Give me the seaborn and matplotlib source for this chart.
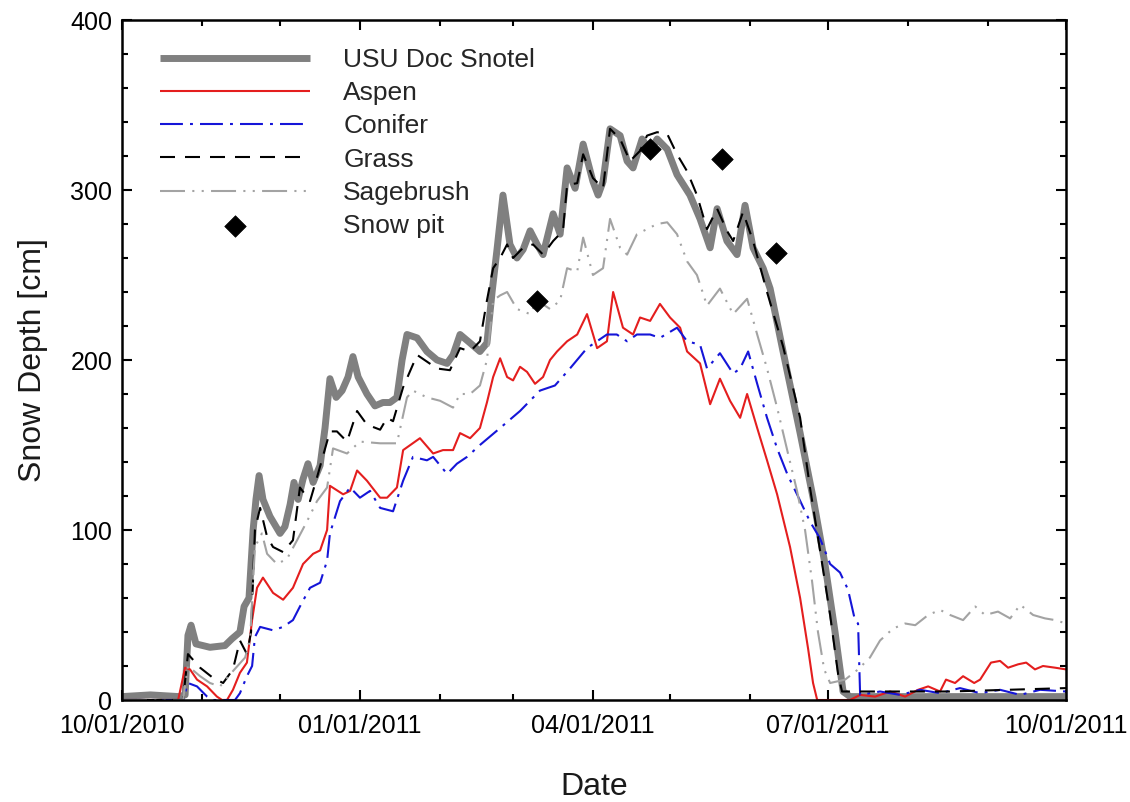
import numpy as np
import pandas as pd
import matplotlib
matplotlib.use("Agg")
import matplotlib.pyplot as plt
import matplotlib.dates as mdates
from matplotlib.ticker import MultipleLocator
import seaborn as sns

START = "2010-10-01"
END = "2011-10-01"

# ---- data: day offsets since 10/01/2010 and snow depth [cm] ----
usu_day = [0, 11, 22, 24.4, 25.5, 26.7, 28.6, 34.0, 39.8, 42.5, 45.6, 47.2, 49.1, 50.7, 51.8,
           53.0, 54.5, 57.2, 61.1, 63.0, 65.0, 66.5, 68.1, 70.0, 71.9, 73.9, 76.6, 78.5, 80.4,
           82.8, 85.1, 87.4, 89.3, 91.3, 94.7, 97.8, 100.9, 103.6, 106.3, 108.3, 110.2, 114.1,
           117.9, 121.8, 125.7, 128.0, 130.7, 134.6, 138.4, 141.1, 143.1, 145.0, 147.3, 150.0,
           152.7, 155.1, 157.8, 160.5, 162.8, 166.7, 169.4, 172.1, 175.2, 178.3, 182.1, 184.1,
           186.0, 188.7, 192.6, 195.3, 197.6, 201.1, 204.2, 206.9, 210.8, 214.6, 219.6, 223.5,
           227.4, 230.1, 233.9, 237.8, 240.9, 244.0, 247.9, 250.6, 255.6, 262.2, 267.2, 271.8,
           275.7, 278.8, 281.5, 365]
usu_cm = [2, 3, 2, 3, 38, 44, 33, 31, 32, 36, 40, 55, 60, 100, 118,
          132, 118, 108, 98, 102, 115, 128, 118, 130, 139, 128, 138, 160, 189,
          178, 182, 190, 202, 190, 180, 173, 175, 175, 178, 200, 215, 213,
          205, 200, 198, 203, 215, 210, 205, 210, 240, 265, 297, 268,
          260, 265, 276, 268, 262, 286, 274, 313, 301, 327, 305, 297,
          305, 336, 332, 317, 313, 330, 323, 330, 324, 309, 297, 283,
          266, 289, 270, 262, 291, 266, 254, 242, 205, 157, 119, 80,
          40, 5, 2, 2]

aspen_day = [0, 21.7, 24.4, 26.3, 29.0, 32.9, 36.7, 38.7, 40.6, 42.9, 45.6, 48.3, 50.3, 52.2,
             54.5, 58.4, 62.3, 66.1, 70.0, 73.9, 76.6, 79.3, 80.4, 85.5, 88.2, 90.9, 94.7,
             99.8, 102.5, 106.3, 108.7, 115.2, 120.3, 124.1, 128.0, 130.7, 134.6, 138.4,
             141.1, 143.5, 146.2, 148.9, 151.2, 153.9, 156.6, 159.7, 162.8, 165.5, 168.2,
             172.1, 176.0, 179.8, 183.7, 187.5, 189.9, 193.7, 197.6, 200.3, 204.2, 208.0,
             211.9, 215.8, 218.5, 223.5, 227.4, 231.2, 235.1, 239.0, 241.7, 245.6, 249.4,
             253.3, 258.3, 262.2, 265.3, 267.2, 268.8, 281.5, 285.4, 291.2, 297.0, 302.8,
             307.8, 311.7, 316.3, 318.6, 322.1, 325.2, 329.5, 331.8, 336.0, 339.5, 342.6,
             346.5, 349.6, 353.0, 356.1, 360.8, 365]
aspen_cm = [0, 0, 19, 18, 12, 8, 2, 0, 0, 6, 16, 22, 47, 66,
            72, 63, 59, 66, 80, 86, 88, 100, 126, 121, 123, 135, 129,
            119, 119, 125, 147, 154, 145, 147, 147, 157, 154, 160,
            175, 190, 201, 190, 188, 196, 193, 186, 190, 200, 205,
            211, 215, 227, 207, 211, 240, 219, 215, 225, 223, 233,
            225, 219, 205, 198, 174, 189, 176, 166, 180, 160, 141,
            121, 90, 60, 30, 10, 0, 0, 3, 2, 5, 2,
            6, 8, 5, 12, 10, 14, 10, 12, 22, 23, 19,
            21, 22, 18, 20, 19, 18]

conifer_day = [0, 23.6, 25.5, 29.0, 32.9, 35.2, 43.7, 45.6, 48.3, 50.3, 51.4, 53.4, 58.4, 62.3,
               66.1, 68.8, 72.7, 76.6, 79.3, 80.4, 84.3, 88.2, 92.0, 95.9, 99.8, 104.8,
               108.7, 112.5, 117.9, 120.3, 125.7, 129.5, 133.4, 138.4, 146.2, 153.9, 161.6,
               167.4, 173.2, 179.8, 187.5, 191.3, 195.3, 199.1, 204.2, 208.0, 214.6, 218.5,
               223.5, 226.2, 231.2, 236.3, 239.0, 242.1, 245.6, 249.4, 253.3, 257.2, 261.0,
               266.0, 269.9, 273.8, 277.6, 280.7, 283.4, 284.6, 285.4, 293.1, 300.9, 308.6,
               316.3, 324.0, 331.8, 339.5, 347.3, 355.0, 365]
conifer_cm = [0, 0, 10, 8, 2, 0, 0, 4, 14, 20, 37, 43, 41, 43,
              47, 55, 66, 69, 82, 98, 117, 125, 119, 123, 113, 111,
              129, 143, 141, 143, 133, 139, 143, 150, 160, 170, 182,
              185, 195, 207, 215, 215, 211, 215, 215, 213, 219, 211,
              209, 195, 204, 192, 195, 205, 186, 166, 148, 133, 121,
              105, 95, 80, 75, 65, 47, 45, 3, 5, 3, 6,
              4, 7, 4, 6, 3, 6, 5]

grass_day = [0, 23.6, 25.5, 30.2, 35.2, 39.1, 42.9, 45.6, 48.3, 49.9, 51.4, 53.4, 56.1, 58.4,
             62.3, 66.1, 68.8, 72.7, 75.4, 80.4, 83.1, 87.0, 90.9, 94.7, 99.8, 102.5, 104.8,
             108.7, 114.1, 121.8, 126.8, 130.7, 134.6, 138.4, 141.1, 143.5, 146.2, 148.9,
             151.2, 155.1, 158.9, 162.8, 166.7, 170.5, 172.1, 176.0, 178.3, 182.1, 186.0,
             188.7, 192.6, 196.4, 200.3, 203.0, 206.9, 210.8, 214.6, 218.5, 222.3, 226.2,
             230.1, 233.9, 236.3, 240.1, 244.0, 249.4, 255.6, 262.2, 266.0, 269.9, 273.8,
             276.9, 278.4, 320, 365]
grass_cm = [0, 0, 27, 19, 13, 10, 18, 35, 27, 40, 100, 113, 96, 90,
            87, 94, 125, 117, 131, 158, 158, 152, 170, 162, 159, 166, 164,
            184, 203, 195, 194, 207, 205, 211, 235, 254, 260, 268,
            260, 266, 268, 262, 270, 276, 303, 304, 321, 307, 301,
            336, 330, 317, 323, 332, 334, 333, 321, 311, 297, 277,
            289, 276, 270, 287, 270, 240, 208, 166, 125, 88, 50,
            15, 5, 5, 7]

sage_day = [0, 23.6, 25.5, 30.2, 34.0, 37.9, 42.9, 47.6, 49.5, 51.4, 54.1, 56.1, 59.9, 63.8,
            67.7, 71.5, 75.4, 79.3, 81.6, 87.0, 92.0, 99.8, 106.3, 110.2, 112.5, 117.9,
            123.0, 128.0, 130.7, 134.6, 138.4, 141.1, 143.5, 146.2, 148.9, 152.7, 157.8,
            160.5, 165.5, 169.4, 172.1, 176.0, 178.3, 182.1, 186.0, 188.7, 192.6, 195.3,
            199.1, 203.0, 206.9, 210.8, 214.6, 218.5, 222.3, 226.2, 231.2, 236.3, 241.7,
            245.6, 249.4, 253.3, 257.2, 261.0, 264.1, 266.8, 269.1, 271.5, 273.8, 279.6,
            284.6, 289.2, 293.1, 298.1, 302.8, 306.7, 311.7, 316.3, 320.2, 325.2, 329.9,
            333.7, 338.7, 343.4, 347.3, 352.3, 356.9, 360.8, 365]
sage_cm = [0, 0, 20, 14, 10, 8, 17, 25, 35, 90, 98, 86, 80, 83,
           94, 105, 117, 125, 148, 145, 152, 151, 151, 178, 182, 178,
           176, 172, 180, 180, 185, 200, 235, 238, 240, 230, 227,
           235, 230, 235, 254, 252, 272, 250, 254, 283, 266, 262,
           274, 277, 280, 281, 274, 258, 250, 232, 242, 227, 236,
           215, 195, 172, 147, 123, 100, 70, 40, 18, 10, 12,
           18, 25, 35, 42, 45, 44, 50, 53, 50, 47, 55,
           50, 52, 48, 56, 50, 48, 47, 45]

pit_day = [160.5, 204.2, 232.0, 252.9]
pit_cm = [235, 324, 318, 263]

series_labels = ["USU Doc Snotel", "Aspen", "Conifer", "Grass", "Sagebrush"]
pit_label = "Snow pit"
x_label = "Date"
y_label = "Snow Depth [cm]"

# ---- style ----
sns.set_theme(style="ticks")
plt.rcParams["font.family"] = ["Liberation Sans", "DejaVu Sans"]
plt.rcParams["axes.edgecolor"] = "black"


def to_dates(days):
    return pd.Timestamp(START) + pd.to_timedelta(np.asarray(days, dtype=float), unit="D")


fig = plt.figure(figsize=(11.3, 8.02), dpi=100)
ax = fig.add_axes([122 / 1130, 1 - 700 / 802, 944 / 1130, 680 / 802])

styles = [
    dict(color="#808080", lw=5.0, dashes=None),
    dict(color="#e41e1e", lw=1.5, dashes=None),
    dict(color="#1515d8", lw=1.5, dashes=(11, 3.4, 1.4, 3.4)),
    dict(color="black", lw=1.5, dashes=(7.2, 4.8)),
    dict(color="#a3a3a3", lw=1.5, dashes=(12, 3.5, 1, 3.5, 1, 3.5)),
]
data = [(usu_day, usu_cm), (aspen_day, aspen_cm), (conifer_day, conifer_cm),
        (grass_day, grass_cm), (sage_day, sage_cm)]

for label, (d, v), st in zip(series_labels, data, styles):
    df = pd.DataFrame({"date": to_dates(d), "depth": v})
    sns.lineplot(data=df, x="date", y="depth", ax=ax, color=st["color"],
                 linewidth=st["lw"], label=label, estimator=None, sort=False)
    line = ax.lines[-1]
    line.set_solid_capstyle("butt")
    if st["dashes"] is not None:
        line.set_dashes(st["dashes"])

pit_df = pd.DataFrame({"date": to_dates(pit_day), "depth": pit_cm})
sns.scatterplot(data=pit_df, x="date", y="depth", ax=ax, marker="D", s=120,
                color="black", edgecolor="black", linewidth=0.5, label=pit_label, zorder=6)

ax.set_xlim(pd.Timestamp(START), pd.Timestamp(END))
ax.set_ylim(0, 400)
ax.xaxis.set_major_locator(mdates.MonthLocator(bymonth=[1, 4, 7, 10]))
ax.xaxis.set_minor_locator(mdates.MonthLocator())
ax.xaxis.set_major_formatter(mdates.DateFormatter("%m/%d/%Y"))
ax.yaxis.set_major_locator(MultipleLocator(100))
ax.yaxis.set_minor_locator(MultipleLocator(20))

ax.tick_params(which="both", direction="in", top=True, right=True, width=1.5,
               colors="black", labelsize=18, pad=7)
ax.tick_params(axis="x", which="both", pad=10)
ax.tick_params(which="major", length=7)
ax.tick_params(which="minor", length=4)
for s in ax.spines.values():
    s.set_visible(True)
    s.set_linewidth(1.8)
    s.set_color("black")

ax.set_xlabel(x_label, fontsize=23, color="#1a1a1a")
ax.set_ylabel(y_label, fontsize=23, color="#1a1a1a")
ax.xaxis.set_label_coords(0.5, -0.106)
ax.yaxis.set_label_coords(-0.078, 0.5)

h, l = ax.get_legend_handles_labels()
ax.legend(h, l, loc="upper left", bbox_to_anchor=(0.040, 0.959), frameon=False,
          fontsize=19, handlelength=5.7, handletextpad=1.25, labelspacing=0.35,
          borderpad=0, borderaxespad=0)

fig.savefig("out.png", dpi=100)
